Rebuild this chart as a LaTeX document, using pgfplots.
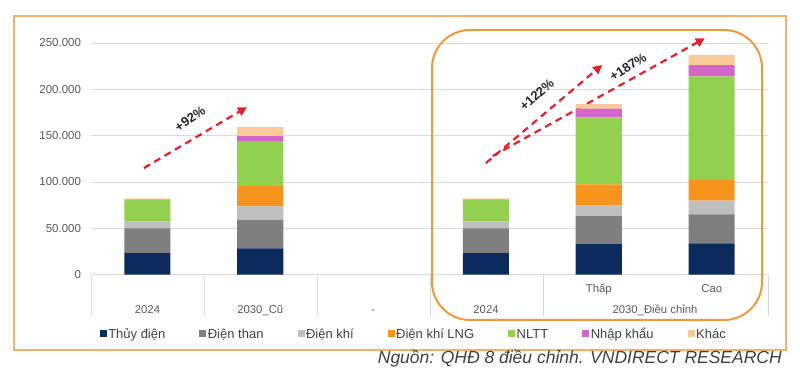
\documentclass[border=0pt]{standalone}
\usepackage{fontspec}
\setmainfont{Liberation Sans}
\usepackage{pgfplots}
\pgfplotsset{compat=1.18}
\usetikzlibrary{arrows.meta}
\definecolor{cHydro}{HTML}{0B2A5E}
\definecolor{cCoal}{HTML}{7F7F7F}
\definecolor{cGas}{HTML}{BFBFBF}
\definecolor{cLNG}{HTML}{F7941D}
\definecolor{cRE}{HTML}{92D050}
\definecolor{cImp}{HTML}{D366C8}
\definecolor{cOther}{HTML}{FAC99A}
\definecolor{gridc}{HTML}{D9D9D9}
\definecolor{tickc}{HTML}{595959}
\definecolor{legc}{HTML}{404040}
\definecolor{framec}{HTML}{F4B066}
\definecolor{roundc}{HTML}{EE9A3A}
\definecolor{arrowc}{HTML}{E3202B}
\begin{document}
\begin{tikzpicture}
\begin{axis}[
  at={(91pt,107.3pt)}, anchor=south west,
  scale only axis, width=677pt, height=231.7pt,
  xmin=-0.5, xmax=5.5, ymin=0, ymax=250000,
  ybar stacked, bar width=0.408,
  axis line style={draw=none},
  xtick=\empty,
  ytick={0,50000,100000,150000,200000,250000},
  yticklabels={0,50.000,100.000,150.000,200.000,250.000},
  ymajorgrids, grid style={draw=gridc, line width=0.9pt},
  major tick length=0pt,
  scaled y ticks=false,
  yticklabel style={font=\fontsize{11.5}{13}\selectfont, text=tickc, xshift=-6.5pt},
  clip=false,
  legend columns=7,
  legend style={at={(0.4764,-0.26)}, anchor=center, draw=none, fill=none,
    font=\fontsize{13}{15}\selectfont, text=legc,
    nodes={inner sep=1.5pt, text height=9.5pt, text depth=3pt},
    /tikz/every even column/.append style={column sep=32.5pt}},
  legend image code/.code={\fill[#1] (0pt,-2pt) rectangle (7pt,5pt);},
]
\addplot[fill=cHydro, draw=none] coordinates {(0,23400) (1,28500) (3,23400) (4,33100) (5,33900)};
\addplot[fill=cCoal, draw=none] coordinates {(0,26600) (1,30500) (3,26600) (4,30200) (5,31200)};
\addplot[fill=cGas, draw=none] coordinates {(0,7600) (1,14800) (3,7600) (4,11100) (5,14700)};
\addplot[fill=cLNG, draw=none] coordinates {(0,300) (1,21900) (3,300) (4,23100) (5,22400)};
\addplot[fill=cRE, draw=none] coordinates {(0,23200) (1,48500) (3,23200) (4,72300) (5,111800)};
\addplot[fill=cImp, draw=none] coordinates {(0,200) (1,5400) (3,200) (4,9300) (5,12200)};
\addplot[fill=cOther, draw=none] coordinates {(0,1100) (1,9700) (3,1100) (4,5000) (5,11100)};
\addlegendentry{Thủy điện}
\addlegendentry{Điện than}
\addlegendentry{Điện khí}
\addlegendentry{Điện khí LNG}
\addlegendentry{NLTT}
\addlegendentry{Nhập khẩu}
\addlegendentry{Khác}
% growth arrows
\draw[arrowc, line width=2.2pt, dash pattern=on 7pt off 5pt, -{Triangle[length=9pt,width=9pt]}]
  (axis cs:-0.031,115100) -- (axis cs:0.882,180800);
\draw[arrowc, line width=2.2pt, dash pattern=on 7pt off 5pt, -{Triangle[length=9pt,width=9pt]}]
  (axis cs:3.0,120500) -- (axis cs:4.03,226300);
\draw[arrowc, line width=2.2pt, dash pattern=on 7pt off 5pt, -{Triangle[length=9pt,width=9pt]}]
  (axis cs:3.06,128000) -- (axis cs:4.94,255100);
\node[rotate=34, font=\bfseries\fontsize{13}{15}\selectfont, text=black!85, inner sep=0pt] at (axis cs:0.377,167900) {+92\%};
\node[rotate=42, font=\bfseries\fontsize{13}{15}\selectfont, text=black!85, inner sep=0pt] at (axis cs:3.45,194000) {+122\%};
\node[rotate=33, font=\bfseries\fontsize{13}{15}\selectfont, text=black!85, inner sep=0pt] at (axis cs:4.26,224000) {+187\%};
\end{axis}
% category axis separators
\foreach \xx in {91,204,317,430,543,768}{
  \draw[gridc, line width=0.9pt] (\xx pt,107.3pt) -- (\xx pt,66pt);
}
% category labels
\begin{scope}[every node/.style={font=\fontsize{11.3}{13}\selectfont, text=tickc, anchor=base, inner sep=0pt}]
\node at (598.8pt,89.7pt) {Thấp};
\node at (711.7pt,89.7pt) {Cao};
\node at (147.5pt,68.5pt) {2024};
\node at (260.3pt,68.5pt) {2030\_Cũ};
\node at (373.2pt,68.5pt) {-};
\node at (486pt,68.5pt) {2024};
\node at (655pt,68.5pt) {2030\_Điều chỉnh};
\end{scope}
% highlight frame
\draw[roundc, line width=2pt, rounded corners=38pt] (432pt,352pt) rectangle (762pt,62pt);
% outer frame
\draw[framec, line width=1.5pt] (14pt,366pt) rectangle (786pt,32pt);
% source
\node[anchor=base east, inner sep=0pt, font=\itshape\fontsize{17.5}{19}\selectfont, text=legc] at (782pt,18.5pt) {Nguồn: QHĐ 8 điều chỉnh. VNDIRECT RESEARCH};
\pgfresetboundingbox
\path[use as bounding box] (0pt,0pt) rectangle (800pt,382pt);
\end{tikzpicture}
\end{document}
